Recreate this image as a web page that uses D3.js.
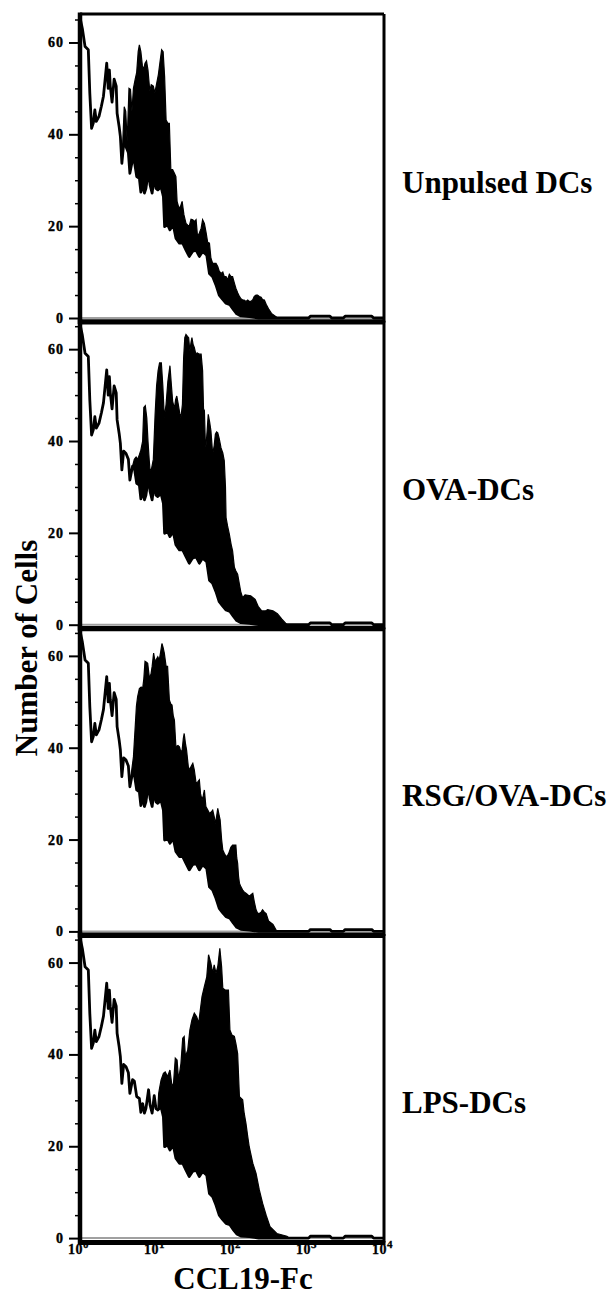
<!DOCTYPE html>
<html>
<head>
<meta charset="utf-8">
<script src="https://cdn.jsdelivr.net/npm/d3@7"></script>
<style>
  body { margin: 0; background: #fff; }
  svg { display: block; }
  text { font-family: "Liberation Serif", "Times New Roman", serif; font-weight: bold; fill: #000; }
</style>
</head>
<body>
<svg id="chart" width="616" height="1296"></svg>
<script>
// x = fluorescence channel (1024 channels, 256 per decade), y = number of cells
var panelLabels = ["Unpulsed DCs", "OVA-DCs", "RSG/OVA-DCs", "LPS-DCs"];
var decadeTicks = [0, 256, 512, 768, 1024];
var decadeExp = ["0", "1", "2", "3", "4"];
var countTicks = [0, 20, 40, 60];
var minorCountTicks = [5, 10, 15, 25, 30, 35, 45, 50, 55, 65];

// isotype / control histogram (open line, same in every panel)
var control = [[0,65.5],[8,63],[17,59.1],[28,58.4],[33,49],[39,41.3],[45,42.5],[50,45.3],[55,42.8],
  [64,43.9],[72,46.1],[79,48.3],[90,55.5],[95,50],[99,54],[102,50.5],[108,47],[115,52],[122,50.5],
  [125,44.6],[132,41.6],[136,39.5],[141,33.7],[147,37.8],[155,37.3],[163,36],[168,31.5],[177,34.5],
  [183,34.2],[191,30.8],[200,30.4],[205,27.4],[211,29.3],[217,27.2],[222,28.2],[231,32.3],[236,29],
  [243,27.2],[250,31],[256,28.2],[262,27.9],[273,28.6],[281,26.4],[285,19.9],[295,20.3],[303,19.2],
  [314,20.3],[323,17.4],[335,16.3],[346,16.3],[357,14.8],[368,13.4],[379,14.5],[391,14.8],[402,13.4],
  [413,14.5],[427,13.7],[436,9.7],[447,9],[458,7.2],[469,5],[480,4.1],[492,3.2],[505,2.9],[517,1.8],
  [528,0.9],[542,0.45],[571,0.3],[602,0],[770,0],[776,0.4],[842,0.4],[848,0],[887,0],[893,0.4],
  [983,0.4],[989,0],[1024,0]];

// upper edge of the filled CCL19-Fc histograms
var unpulsed = [[141,33.7],[149,46],[154,45],[159,38.5],[165,50],[170,49.8],[175,45],[180,50],[186,52],
  [191,53.5],[196,58],[200,59.5],[205,58],[210,55],[214,54],[219,55.5],[224,56],[229,54],[235,49.5],
  [240,50.8],[247,50.5],[252,49],[258,51],[264,53],[270,56],[275,58.4],[280,58],[285,52.6],[290,43.1],
  [296,42.4],[301,42.4],[306,32.3],[312,32.3],[318,31.5],[323,30.8],[327,25.4],[333,24],[338,24.2],
  [344,25.4],[350,22.5],[357,20.6],[363,20.2],[368,20],[374,21.5],[380,21.4],[385,21],[391,21.4],
  [396,17.7],[402,18.5],[408,19.5],[413,21.4],[419,20.6],[425,18.5],[430,16.5],[436,16.3],[441,13],
  [447,11.9],[452,11.9],[458,11.9],[464,11.2],[469,10.2],[475,9.7],[481,10],[486,9],[492,9],[497,8.3],
  [503,9.5],[509,9],[514,9],[520,7.6],[525,6.5],[531,5.5],[537,4.7],[542,4.2],[548,3.9],[553,3.9],
  [559,3.6],[565,3.9],[570,3.6],[576,3.6],[582,4],[587,4.7],[593,5],[598,5],[604,4.7],[610,4.5],
  [615,4],[621,3.9],[627,3],[635,2],[645,1],[660,0.3],[665,0]];
var ova = [[177,34.5],[183,36],[189,36.5],[194,36],[200,37],[205,38],[211,40],[215,47.3],[220,47.7],
  [225,45],[229,40],[233,36],[236,33.5],[241,34],[247,36],[253,45.8],[258,52],[263,55.3],[268,57],
  [274,57],[279,52],[284,45.1],[290,48],[296,53],[303,56.4],[308,52],[312,48.7],[318,47],[322,49],
  [326,49.8],[331,48],[336,46],[340,45.1],[345,48],[349,58],[353,62.5],[357,63.2],[362,62.8],[366,62.5],
  [370,59.6],[374,61.5],[377,62.5],[381,61],[385,60.4],[390,59],[395,59.2],[402,58.9],[408,58.9],
  [413,55.3],[416,47],[419,46.6],[422,40],[424,38.6],[428,42],[432,45.8],[437,44],[441,42.2],[447,37.1],
  [452,39],[456,41.5],[460,42],[464,41.8],[469,40.5],[475,38.5],[481,37.4],[486,35.7],[490,30],
  [492,23.3],[497,21.5],[503,19.7],[509,17.5],[514,16.1],[520,12.5],[525,11.7],[531,11],[537,8.8],
  [542,7],[548,5.9],[556,6.5],[575,6.3],[590,5.5],[600,4],[612,3],[625,3],[632,3.3],[650,3],[665,2.4],
  [680,1.2],[697,0]];
var rsgOva = [[168,31.5],[172,34],[180,38],[186,44.6],[190,49],[194,51.1],[200,52.9],[206,53.2],
  [211,52.9],[215,55],[219,58.8],[224,58.6],[228,58.4],[234,55.1],[239,56],[243,57.7],[248,60.6],
  [252,59],[256,59.1],[262,59.8],[267,59.1],[272,61],[276,62.7],[280,61.8],[284,60.6],[290,57.7],
  [295,57.7],[301,50.4],[306,49.5],[310,49.3],[314,47],[318,46],[323,40.2],[330,40.5],[335,40.2],
  [340,39],[344,39.5],[348,42],[351,43.1],[355,41],[359,39.5],[363,37],[366,35.2],[370,35.5],[374,35.9],
  [380,36.6],[385,35.2],[391,32.3],[396,32.5],[402,33],[406,30],[411,28.6],[415,29.5],[419,30.8],
  [424,27.2],[430,26.5],[436,25.7],[442,26],[447,26.4],[452,25],[456,23.5],[460,25],[464,26.8],
  [468,25.5],[472,24.3],[477,20],[481,17.7],[486,17],[492,16.3],[497,16.5],[501,17],[508,18.3],
  [514,18.8],[520,18.8],[525,18.8],[528,16],[531,14.8],[534,12],[537,10.5],[542,9.7],[548,9],
  [553,8.6],[559,8.3],[565,8],[570,7.6],[576,8],[582,8.3],[587,6.5],[593,4.7],[598,4],[604,3.9],
  [610,4.2],[615,4.7],[621,4.2],[627,3.9],[635,2.3],[650,1.5],[663,0]];
var lps = [[262,27.9],[265,31.5],[267,32.3],[273,34.4],[281,35.9],[287,36.2],[295,35.2],[303,36.6],
  [310,33],[315,33.7],[321,39.2],[327,38.8],[332,34.4],[340,38],[346,43.5],[351,43.9],[355,39.5],
  [363,41],[370,45.3],[377,47.5],[385,49],[393,48.2],[400,46.8],[404,49],[411,52.6],[419,54.8],
  [427,56.9],[433,61.7],[441,59.8],[447,57.7],[452,59.5],[458,57.7],[464,59.1],[471,63.1],[477,59.1],
  [481,54.4],[490,54],[500,54],[505,45.3],[512,44.2],[520,43.9],[525,42.4],[531,40.2],[537,30.8],
  [548,30.1],[553,27.2],[559,25],[565,22.1],[570,19.9],[582,16.3],[593,14.1],[604,10.5],[615,7.6],
  [627,5],[640,2.5],[663,1],[697,0.4],[705,0]];

var samples = [unpulsed, ova, rsgOva, lps];

var svg = d3.select("#chart");
var left = 80, right = 384;
var zero0 = 318, pitch = 306.7, plotH = 304;

var x = d3.scaleLinear().domain([0, 1024]).range([left, right]);

samples.forEach(function(sample, i) {
  var z = zero0 + i * pitch;
  var top = z - plotH;
  var y = d3.scaleLinear().domain([0, 66.2]).range([z, top]);
  var g = svg.append("g");

  g.append("clipPath").attr("id", "clip" + i)
    .append("rect")
      .attr("x", left).attr("y", top)
      .attr("width", right - left).attr("height", plotH + 2);

  // grey baseline at zero
  g.append("line")
    .attr("x1", left).attr("x2", right)
    .attr("y1", z).attr("y2", z)
    .style("stroke", "#a0a0a0").style("stroke-width", 2);

  var plot = g.append("g").attr("clip-path", "url(#clip" + i + ")");

  // filled band: sample upper edge, back along the control line
  var x0 = sample[0][0], x1 = sample[sample.length - 1][0];
  var back = control.filter(function(d) { return d[0] >= x0 && d[0] <= x1; }).reverse();
  var line = d3.line()
    .x(function(d) { return x(d[0]); })
    .y(function(d) { return y(d[1]); });

  plot.append("path")
    .attr("d", line(sample.concat(back)) + "Z")
    .style("fill", "#000")
    .style("stroke", "#000")
    .style("stroke-width", 1.2)
    .style("stroke-linejoin", "miter");

  plot.append("path")
    .attr("d", line(control))
    .style("fill", "none")
    .style("stroke", "#000")
    .style("stroke-width", 2.8)
    .style("stroke-linejoin", "round");

  // frame
  var frame = [
    [left, top, right, top, 3],
    [right, top, right, z + 4.5, 3],
    [left, z + 4.5, right, z + 4.5, i == 3 ? 5 : 4],
    [left, top - 1.5, left, z + 6, 4.5]
  ];
  frame.forEach(function(f) {
    g.append("line")
      .attr("x1", f[0]).attr("y1", f[1]).attr("x2", f[2]).attr("y2", f[3])
      .style("stroke", "#000").style("stroke-width", f[4]);
  });

  // y axis
  var yAxis = g.append("g")
    .attr("transform", "translate(" + (left - 1) + ",0)")
    .call(d3.axisLeft(y).tickValues(countTicks).tickSize(10).tickPadding(5).tickFormat(d3.format("d")));
  yAxis.attr("font-size", 14);
  yAxis.select(".domain").remove();
  yAxis.selectAll(".tick line").style("stroke", "#000").style("stroke-width", 2);
  yAxis.selectAll(".tick text")
    .attr("font-family", null)
    .attr("font-size", 14)
    .style("letter-spacing", "1px")
    .style("stroke", "#000")
    .style("stroke-width", 0.4);

  var yMinor = g.append("g")
    .attr("transform", "translate(" + (left - 1) + ",0)")
    .call(d3.axisLeft(y).tickValues(minorCountTicks).tickSize(4).tickFormat(""));
  yMinor.select(".domain").remove();
  yMinor.selectAll(".tick line").style("stroke", "#000").style("stroke-width", 1.5);

  g.append("text")
    .attr("x", 402)
    .attr("y", z - 125)
    .style("font-size", "31px")
    .text(panelLabels[i]);

  // x axis on the bottom panel only
  if (i == 3) {
    var xAxis = g.append("g")
      .attr("transform", "translate(0," + (z + 3) + ")")
      .call(d3.axisBottom(x).tickValues(decadeTicks).tickSize(4).tickFormat(""));
    xAxis.attr("font-size", 14);
    xAxis.select(".domain").remove();
    xAxis.selectAll(".tick line").style("stroke", "#000").style("stroke-width", 2);
    xAxis.selectAll(".tick text").remove();
    xAxis.selectAll(".tick").append("text")
      .attr("x", -2)
      .attr("y", 13)
      .attr("text-anchor", "middle")
      .attr("font-size", 14)
      .style("letter-spacing", "0.5px")
      .style("stroke", "#000")
      .style("stroke-width", 0.3)
      .each(function(d, k) {
        var t = d3.select(this);
        t.append("tspan").text("10");
        t.append("tspan").attr("dy", -6).attr("font-size", 11).text(decadeExp[k]);
      });
  }
});

// axis titles
svg.append("text")
  .attr("transform", "translate(37,648) rotate(-90)")
  .attr("text-anchor", "middle")
  .style("font-size", "31px")
  .text("Number of Cells");

svg.append("text")
  .attr("x", 243)
  .attr("y", 1289)
  .attr("text-anchor", "middle")
  .style("font-size", "31px")
  .text("CCL19-Fc");
</script>
</body>
</html>
